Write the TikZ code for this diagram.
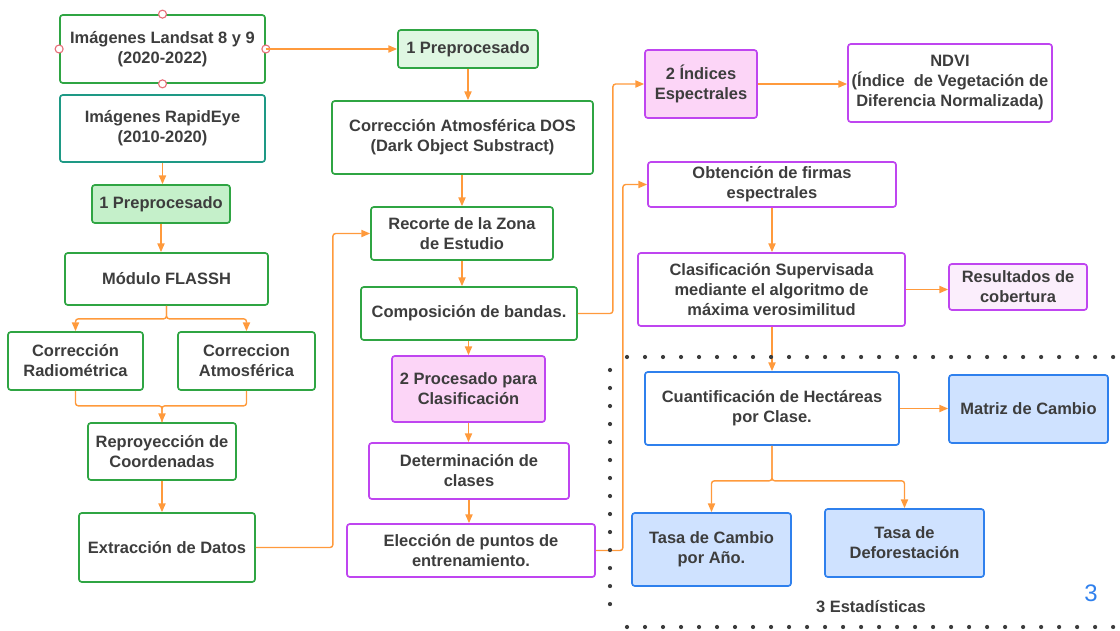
\documentclass[tikz,border=0pt]{standalone}
\usepackage{fontspec}
\setmainfont{Liberation Sans}
\usetikzlibrary{arrows.meta}

\definecolor{txtgray}{HTML}{3D3D3D}
\definecolor{lgreen}{HTML}{2FA543}
\definecolor{lteal}{HTML}{1E9985}
\definecolor{fillgreen}{HTML}{C5F0CA}
\definecolor{fillgreenl}{HTML}{DFF7E2}
\definecolor{lpurple}{HTML}{BF45F0}
\definecolor{fillpink}{HTML}{FCD5F7}
\definecolor{fillpinkl}{HTML}{FBEEFC}
\definecolor{lblue}{HTML}{2F80ED}
\definecolor{fillblue}{HTML}{CFE2FF}
\definecolor{lorange}{HTML}{FF9A3C}
\definecolor{handle}{HTML}{E8707A}

\begin{document}
\begin{tikzpicture}[x=0.025cm, y=-0.025cm,
	box/.style={draw, line width=1.2pt, rounded corners=2pt, align=center, text=txtgray,
		font=\fontsize{11.7}{14.2}\selectfont\bfseries, inner sep=2pt},
	gbox/.style={box, draw=lgreen, fill=white},
	pbox/.style={box, draw=lpurple, fill=white},
	bbox/.style={box, draw=lblue, fill=white},
	flow/.style={draw=lorange, line width=1pt, rounded corners=2pt,
		-{Triangle[length=2.2mm,width=1.8mm]}},
	link/.style={draw=lorange, line width=1pt, rounded corners=2pt}]
	\useasboundingbox (0,0) rectangle (1120,631);
	% column 1
	\node[gbox, minimum width=5.125cm, minimum height=1.7cm] (landsat) at (162.5,49) {Imágenes Landsat 8 y 9\\(2020-2022)};
	\node[box, draw=lteal, minimum width=5.125cm, minimum height=1.675cm] (rapid) at (162.5,128.5) {Imágenes RapidEye\\(2010-2020)};
	\node[gbox, fill=fillgreen, minimum width=3.45cm, minimum height=0.95cm] (prepl) at (161,204) {1 Preprocesado};
	\node[gbox, minimum width=5.075cm, minimum height=1.3cm] (modulo) at (166.5,279) {Módulo FLASSH};
	\node[gbox, minimum width=3.375cm, minimum height=1.45cm] (radio) at (75.5,361) {Corrección\\Radiométrica};
	\node[gbox, minimum width=3.425cm, minimum height=1.45cm] (atmos) at (246.5,361) {Correccion\\Atmosférica};
	\node[gbox, minimum width=3.7cm, minimum height=1.425cm] (reproy) at (162,451.5) {Reproyección de\\Coordenadas};
	\node[gbox, minimum width=4.4cm, minimum height=1.725cm] (extrac) at (167,547.5) {Extracción de Datos};
	% handles
	\foreach \a in {north, south, east, west}
		\draw[handle, fill=white, line width=0.8pt] (landsat.\a) circle [radius=4];
	% column 2
	\node[gbox, fill=fillgreenl, minimum width=3.5cm, minimum height=0.95cm] (prept) at (468,49) {1 Preprocesado};
	\node[gbox, minimum width=6.525cm, minimum height=1.825cm] (dos) at (462.5,137.5) {Corrección Atmosférica DOS\\(Dark Object Substract)};
	\node[gbox, minimum width=4.55cm, minimum height=1.325cm] (recorte) at (462,233.5) {Recorte de la Zona\\de Estudio};
	\node[gbox, minimum width=5.4cm, minimum height=1.325cm] (compos) at (469,313.5) {Composición de bandas.};
	\node[pbox, fill=fillpink, minimum width=3.825cm, minimum height=1.65cm] (proces) at (468.5,389) {2 Procesado para\\Clasificación};
	\node[pbox, minimum width=5cm, minimum height=1.4cm] (determ) at (469,471) {Determinación de\\clases};
	\node[pbox, minimum width=6.2cm, minimum height=1.325cm] (eleccion) at (471,550.5) {Elección de puntos de\\entrenamiento.};
	% column 3
	\node[pbox, fill=fillpink, minimum width=2.8cm, minimum height=1.7cm] (indices) at (701,84) {2 Índices\\Espectrales};
	\node[pbox, minimum width=5.1cm, minimum height=1.95cm] (ndvi) at (950,83) {NDVI\\(Índice\ \ de Vegetación de\\Diferencia Normalizada)};
	\node[pbox, minimum width=6.2cm, minimum height=1.125cm] (obten) at (772,184.5) {Obtención de firmas\\espectrales};
	\node[pbox, minimum width=6.675cm, minimum height=1.825cm] (clasif) at (771.5,289.5) {Clasificación Supervisada\\mediante el algoritmo de\\máxima verosimilitud};
	\node[pbox, fill=fillpinkl, minimum width=3.45cm, minimum height=1.15cm] (result) at (1018,287) {Resultados de\\cobertura};
	\node[bbox, minimum width=6.35cm, minimum height=1.825cm] (cuant) at (772,408.5) {Cuantificación de Hectáreas\\por Clase.};
	\node[bbox, fill=fillblue, minimum width=3.975cm, minimum height=1.7cm] (matriz) at (1028.5,409) {Matriz de Cambio};
	\node[bbox, fill=fillblue, minimum width=3.975cm, minimum height=1.825cm] (tasac) at (711.5,549.5) {Tasa de Cambio\\por Año.};
	\node[bbox, fill=fillblue, minimum width=3.975cm, minimum height=1.7cm] (tasad) at (904.5,543) {Tasa de\\Deforestación};
	% arrows
	\draw[flow] (landsat.east) -- (prept.west);
	\draw[flow] (rapid.south) -- (rapid.south |- prepl.north);
	\draw[flow] (prepl.south) -- (prepl.south |- modulo.north);
	\draw[flow] (modulo.south) -- ++(0,13) -| (radio.north);
	\draw[flow] (modulo.south) -- ++(0,13) -| (atmos.north);
	\draw[link] (radio.south) -- ++(0,15) -| (reproy.north);
	\draw[flow] (atmos.south) -- ++(0,15) -| (reproy.north);
	\draw[flow] (reproy.south) -- (reproy.south |- extrac.north);
	\draw[flow] (extrac.east) -- ++(77,0) |- (recorte.west);
	\draw[flow] (prept.south) -- (prept.south |- dos.north);
	\draw[flow] (recorte.north |- dos.south) -- (recorte.north);
	\draw[flow] (recorte.south) -- (recorte.south |- compos.north);
	\draw[flow] (proces.north |- compos.south) -- (proces.north);
	\draw[flow] (proces.south) -- (proces.south |- determ.north);
	\draw[flow] (determ.south) -- (determ.south |- eleccion.north);
	\draw[flow] (compos.east) -- ++(35,0) |- (indices.west);
	\draw[flow] (indices.east) -- (indices.east -| ndvi.west);
	\draw[flow] (eleccion.east) -- ++(27,0) |- (obten.west);
	\draw[flow] (obten.south) -- (obten.south |- clasif.north);
	\draw[flow] (clasif.east) -- (clasif.east -| result.west);
	\draw[flow] (cuant.north |- clasif.south) -- (cuant.north);
	\draw[flow] (cuant.east) -- (cuant.east -| matriz.west);
	\draw[flow] (cuant.south) -- ++(0,35) -| (tasac.north);
	\draw[flow] (cuant.south) -- ++(0,35) -| (tasad.north);
	% dotted frame
	\draw[txtgray, line width=3pt, line cap=round, dash pattern=on 0pt off 0.45cm] (627,357) -- (1118,357);
	\draw[txtgray, line width=3pt, line cap=round, dash pattern=on 0pt off 0.45cm] (610,370) -- (610,615);
	\draw[txtgray, line width=3pt, line cap=round, dash pattern=on 0pt off 0.45cm] (627,627) -- (1118,627);
	% labels
	\node[text=txtgray, font=\fontsize{11.7}{14}\selectfont\bfseries] (estad) at (871,607) {3 Estadísticas};
	\node[text=lblue, font=\fontsize{17}{20}\selectfont] (num) at (1091,593) {3};
\end{tikzpicture}
\end{document}
